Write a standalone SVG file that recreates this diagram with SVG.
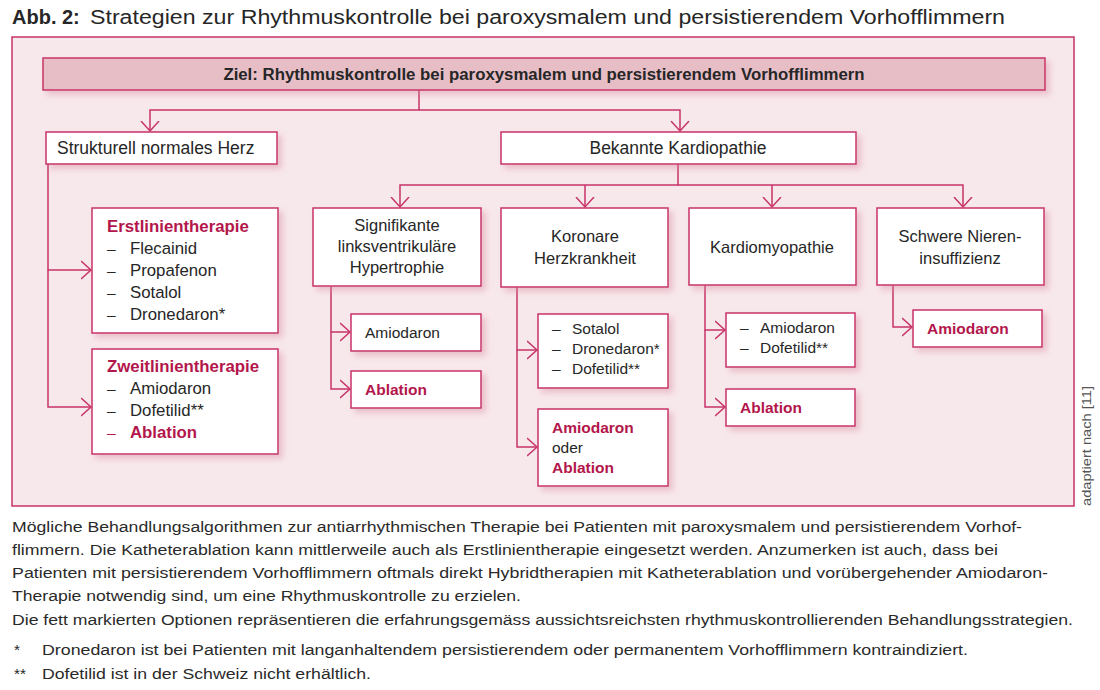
<svg xmlns="http://www.w3.org/2000/svg" width="1100" height="690" viewBox="0 0 1100 690">
<style>
text{font-family:"Liberation Sans",Arial,sans-serif;fill:#262626;}
.t{font-size:15.5px;}
.h{font-size:17.5px;}
.m{font-size:16.5px;}
.l{font-size:16.8px;}
.s{font-size:15.5px;}
.b{font-weight:bold;}
.r{fill:#b3164b;font-weight:bold;}
.c{text-anchor:middle;}
.box{fill:#fff;stroke:#c8336a;stroke-width:1.5;filter:url(#sh);}
.ln{fill:none;stroke:#c8336a;stroke-width:1.5;}
.cap{font-size:15.5px;fill:#2a2a2a;}
</style>
<defs>
<filter id="sh" x="-20%" y="-20%" width="150%" height="160%">
<feDropShadow dx="4" dy="4" stdDeviation="3" flood-color="#d9899f" flood-opacity="0.45"/>
</filter>
<marker id="ar" markerUnits="userSpaceOnUse" markerWidth="12" markerHeight="20" refX="10" refY="10" orient="auto" viewBox="0 0 12 20">
<path d="M0,1 L10,10 L0,19" fill="none" stroke="#c8336a" stroke-width="1.5"/>
</marker>
</defs>
<rect width="1100" height="690" fill="#fff"/>
<text x="12" y="24" style="font-size:20px;font-weight:bold">Abb. 2:</text>
<text x="90" y="24" style="font-size:20px" textLength="915" lengthAdjust="spacingAndGlyphs">Strategien zur Rhythmuskontrolle bei paroxysmalem und persistierendem Vorhofflimmern</text>
<rect x="12" y="37" width="1062" height="469" fill="#f7e8eb" stroke="#c8336a" stroke-width="1.5"/>

<g id="connectors">
<path class="ln" d="M419,90 V110 H150 V131" marker-end="url(#ar)"/>
<path class="ln" d="M419,110 H680 V131" marker-end="url(#ar)"/>
<path class="ln" d="M48,164 V270 H91" marker-end="url(#ar)"/>
<path class="ln" d="M48,270 V407 H91" marker-end="url(#ar)"/>
<path class="ln" d="M678,164 V185 H400 V207" marker-end="url(#ar)"/>
<path class="ln" d="M585,185 V207" marker-end="url(#ar)"/>
<path class="ln" d="M678,185 H963 V207" marker-end="url(#ar)"/>
<path class="ln" d="M772,185 V207" marker-end="url(#ar)"/>
<path class="ln" d="M331,286 V332 H350" marker-end="url(#ar)"/>
<path class="ln" d="M331,332 V389 H350" marker-end="url(#ar)"/>
<path class="ln" d="M517,287 V350 H537" marker-end="url(#ar)"/>
<path class="ln" d="M517,350 V447 H537" marker-end="url(#ar)"/>
<path class="ln" d="M705,285 V330 H725" marker-end="url(#ar)"/>
<path class="ln" d="M705,330 V407 H725" marker-end="url(#ar)"/>
<path class="ln" d="M893,285 V327 H912" marker-end="url(#ar)"/>
</g>

<g id="ziel">
<rect x="43" y="58" width="1002" height="32" fill="#e8bec6" stroke="#c8336a" stroke-width="1.5" filter="url(#sh)"/>
<text x="544" y="80" class="b c" style="font-size:16.8px">Ziel: Rhythmuskontrolle bei paroxysmalem und persistierendem Vorhofflimmern</text>
</g>
<g id="strukturell">
<rect class="box" x="46" y="132" width="231" height="32"/>
<text x="57" y="154" class="h">Strukturell normales Herz</text>
</g>
<g id="kardiopathie">
<rect class="box" x="501" y="132" width="355" height="32"/>
<text x="678" y="154" class="h c">Bekannte Kardiopathie</text>
</g>
<g id="erstlinie">
<rect class="box" x="92" y="208" width="186" height="125"/>
<text x="107" y="232" class="l r">Erstlinientherapie</text>
<text x="107" y="254" class="t">–</text><text x="130" y="254" class="l">Flecainid</text>
<text x="107" y="276" class="t">–</text><text x="130" y="276" class="l">Propafenon</text>
<text x="107" y="298" class="t">–</text><text x="130" y="298" class="l">Sotalol</text>
<text x="107" y="320" class="t">–</text><text x="130" y="320" class="l">Dronedaron*</text>
</g>
<g id="zweitlinie">
<rect class="box" x="92" y="349" width="186" height="105"/>
<text x="107" y="372" class="l r">Zweitlinientherapie</text>
<text x="107" y="394" class="t">–</text><text x="130" y="394" class="l">Amiodaron</text>
<text x="107" y="416" class="t">–</text><text x="130" y="416" class="l">Dofetilid**</text>
<text x="107" y="438" class="t" style="fill:#b3164b">–</text><text x="130" y="438" class="l r">Ablation</text>
</g>
<g id="hypertrophie">
<rect class="box" x="313" y="208" width="168" height="78"/>
<text x="397" y="231" class="m c">Signifikante</text>
<text x="397" y="252" class="m c">linksventrikuläre</text>
<text x="397" y="273" class="m c">Hypertrophie</text>
</g>
<g id="khk">
<rect class="box" x="501" y="208" width="167" height="79"/>
<text x="585" y="242" class="m c">Koronare</text>
<text x="585" y="264" class="m c">Herzkrankheit</text>
</g>
<g id="kardiomyopathie">
<rect class="box" x="689" y="208" width="167" height="77"/>
<text x="772" y="253" class="m c">Kardiomyopathie</text>
</g>
<g id="niere">
<rect class="box" x="877" y="208" width="167" height="77"/>
<text x="960" y="242" class="m c">Schwere Nieren-</text>
<text x="960" y="264" class="m c">insuffizienz</text>
</g>
<g id="hyp-amiodaron">
<rect class="box" x="351" y="314" width="130" height="37"/>
<text x="365" y="338" class="s">Amiodaron</text>
</g>
<g id="hyp-ablation">
<rect class="box" x="351" y="371" width="130" height="37"/>
<text x="365" y="395" class="s r">Ablation</text>
</g>
<g id="khk-med">
<rect class="box" x="538" y="314" width="130" height="74"/>
<text x="552" y="334" class="s">–</text><text x="572" y="334" class="s">Sotalol</text>
<text x="552" y="354" class="s">–</text><text x="572" y="354" class="s">Dronedaron*</text>
<text x="552" y="374" class="s">–</text><text x="572" y="374" class="s">Dofetilid**</text>
</g>
<g id="khk-abl">
<rect class="box" x="538" y="409" width="130" height="77"/>
<text x="552" y="433" class="s r">Amiodaron</text>
<text x="552" y="453" class="s">oder</text>
<text x="552" y="473" class="s r">Ablation</text>
</g>
<g id="km-med">
<rect class="box" x="726" y="313" width="129" height="54"/>
<text x="740" y="333" class="s">–</text><text x="760" y="333" class="s">Amiodaron</text>
<text x="740" y="353" class="s">–</text><text x="760" y="353" class="s">Dofetilid**</text>
</g>
<g id="km-abl">
<rect class="box" x="726" y="389" width="129" height="37"/>
<text x="740" y="413" class="s r">Ablation</text>
</g>
<g id="niere-amiodaron">
<rect class="box" x="913" y="310" width="129" height="37"/>
<text x="927" y="334" class="s r">Amiodaron</text>
</g>

<text transform="translate(1091,506) rotate(-90)" style="font-size:12.5px;fill:#555" textLength="120" lengthAdjust="spacingAndGlyphs">adaptiert nach [11]</text>

<text x="12" y="532" class="cap" textLength="1010" lengthAdjust="spacingAndGlyphs">Mögliche Behandlungsalgorithmen zur antiarrhythmischen Therapie bei Patienten mit paroxysmalem und persistierendem Vorhof-</text>
<text x="12" y="555" class="cap" textLength="986" lengthAdjust="spacingAndGlyphs">flimmern. Die Katheterablation kann mittlerweile auch als Erstlinientherapie eingesetzt werden. Anzumerken ist auch, dass bei</text>
<text x="12" y="578" class="cap" textLength="1036" lengthAdjust="spacingAndGlyphs">Patienten mit persistierendem Vorhofflimmern oftmals direkt Hybridtherapien mit Katheterablation und vorübergehender Amiodaron-</text>
<text x="12" y="601" class="cap" textLength="509" lengthAdjust="spacingAndGlyphs">Therapie notwendig sind, um eine Rhythmuskontrolle zu erzielen.</text>
<text x="12" y="625" class="cap" textLength="1061" lengthAdjust="spacingAndGlyphs">Die fett markierten Optionen repräsentieren die erfahrungsgemäss aussichtsreichsten rhythmuskontrollierenden Behandlungsstrategien.</text>
<text x="14" y="655" class="cap">*</text>
<text x="42" y="655" class="cap" textLength="926" lengthAdjust="spacingAndGlyphs">Dronedaron ist bei Patienten mit langanhaltendem persistierendem oder permanentem Vorhofflimmern kontraindiziert.</text>
<text x="14" y="679" class="cap">**</text>
<text x="42" y="679" class="cap" textLength="329" lengthAdjust="spacingAndGlyphs">Dofetilid ist in der Schweiz nicht erhältlich.</text>
</svg>
